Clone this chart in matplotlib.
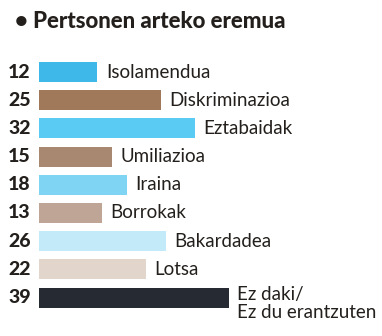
import matplotlib.pyplot as plt

labels = ['Isolamendua', 'Diskriminazioa', 'Eztabaidak', 'Umiliazioa', 'Iraina',
          'Borrokak', 'Bakardadea', 'Lotsa', 'Ez daki/\nEz du erantzuten']
values = [12, 25, 32, 15, 18, 13, 26, 22, 39]
colors = ['#3db8e8', '#a0785a', '#5acbf2', '#a88870', '#7ed4f2',
          '#bfa595', '#c2eaf9', '#e2d6cc', '#262a33']

W, H = 382, 336
fig = plt.figure(figsize=(W / 100, H / 100), dpi=100)
fig.patch.set_facecolor('white')

# axes from the bars' left edge to the right border, full height
x0 = 39
px_per_unit = 4.87
row = 28.2
first = 72
ax = fig.add_axes([x0 / W, 0, 1 - x0 / W, 1])
ax.set_xlim(0, (W - x0) / px_per_unit)
ax.set_ylim((H - first) / row, -first / row)
ax.axis('off')

ys = list(range(len(values)))
ax.barh(ys, values, height=0.71, color=colors, edgecolor='none')

for y, v, lab in zip(ys, values, labels):
    ax.annotate(str(v), (0, y), xytext=(-6, 0), textcoords='offset points',
                ha='right', va='center', fontsize=14, fontweight='black',
                family='Lato', color='#231f1c')
    if '\n' in lab:
        ax.annotate(lab, (v, y), xytext=(6, 8), textcoords='offset points',
                    ha='left', va='top', fontsize=13.5, family='Lato',
                    color='#231f1c', linespacing=1.05)
    else:
        ax.annotate(lab, (v, y), xytext=(6, 0), textcoords='offset points',
                    ha='left', va='center', fontsize=13.5, family='Lato',
                    color='#231f1c')

fig.text(15 / W, 1 - 22 / H, '\u2022 Pertsonen arteko eremua', ha='left', va='center',
         fontsize=16, fontweight='black', family='Lato', color='#231f1c')

fig.savefig('out.png', dpi=100)
